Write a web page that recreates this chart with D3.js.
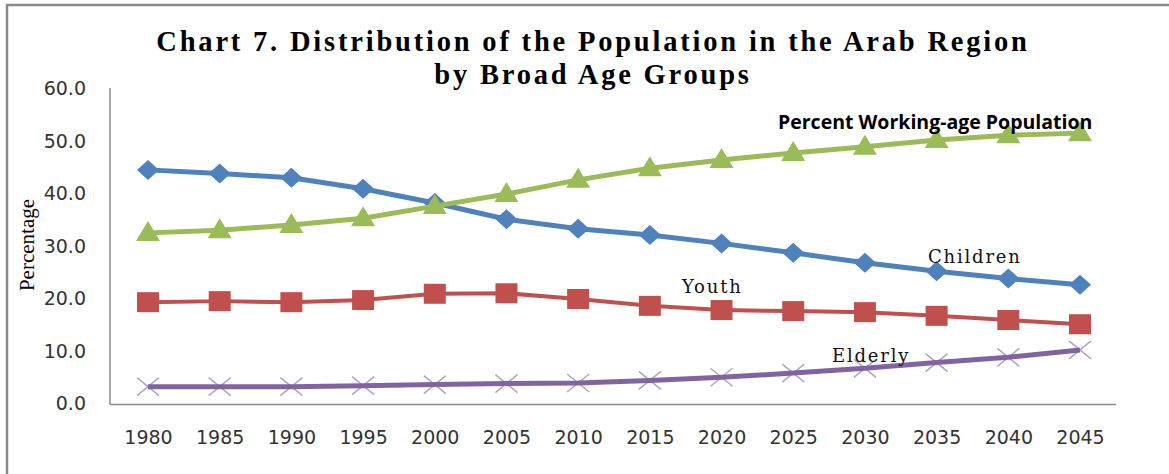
<!DOCTYPE html>
<html><head><meta charset="utf-8">
<script src="https://cdn.jsdelivr.net/npm/d3@7"></script>
<style>body{margin:0;background:#fff}svg{display:block}</style>
</head><body>
<script>
const years = ["1980","1985","1990","1995","2000","2005","2010","2015","2020","2025","2030","2035","2040","2045"];
const children = [44.5,43.8,43.0,40.9,38.2,35.1,33.3,32.1,30.5,28.7,26.8,25.2,23.8,22.6];
const youth = [19.3,19.5,19.3,19.7,20.9,21.0,19.9,18.6,17.8,17.6,17.4,16.7,15.9,15.1];
const working = [32.5,33.0,34.0,35.3,37.6,39.9,42.6,44.8,46.4,47.7,48.9,50.2,51.1,51.5];
const elderly = [3.2,3.2,3.2,3.4,3.6,3.8,3.9,4.4,5.0,5.8,6.7,7.8,8.8,10.2];
const yTicks = [0,10,20,30,40,50,60];
const titleLines = ["Chart 7. Distribution of the Population in the Arab Region","by Broad Age Groups"];

const W=1169,H=474;
const svg=d3.select("body").append("svg").attr("width",W).attr("height",H);
svg.append("rect").attr("width",W).attr("height",H).attr("fill","#fff");
// frame (cropped at right/bottom)
svg.append("path").attr("d",`M7,${H+5} L7,5 L${W+5},5`).attr("fill","none").attr("stroke","#8a8a8a").attr("stroke-width",2.5);

const x=d3.scalePoint().domain(years).range([148,1080]);
const y=d3.scaleLinear().domain([0,60]).range([403.5,88.5]);

// title
svg.append("g").selectAll("text").data(titleLines).join("text")
  .attr("x",593).attr("y",(d,i)=>51+i*32.5).attr("text-anchor","middle")
  .attr("font-family","'Liberation Serif',serif").attr("font-weight","bold").attr("font-size",28.5)
  .attr("letter-spacing",2.8).attr("fill","#000").text(d=>d);

// axes
const yAxis=svg.append("g").attr("transform","translate(110,0)")
  .call(d3.axisLeft(y).tickValues(yTicks).tickFormat(d3.format(".1f")).tickSize(0).tickPadding(24));
yAxis.select(".domain").attr("stroke","#8a8a8a").attr("stroke-width",1.5).attr("d","M0,88V404.5");
yAxis.selectAll("text").attr("font-family","'DejaVu Sans',sans-serif").attr("font-size",19).attr("fill","#333");

const xAxis=svg.append("g").attr("transform","translate(0,404.5)")
  .call(d3.axisBottom(x).tickSize(0).tickPadding(26));
xAxis.select(".domain").attr("stroke","#8a8a8a").attr("stroke-width",1.5).attr("d","M110,0H1116");
xAxis.selectAll("text").attr("font-family","'DejaVu Sans',sans-serif").attr("font-size",19).attr("fill","#333");

svg.append("text").attr("transform","translate(34,245) rotate(-90)").attr("text-anchor","middle")
  .attr("font-family","'Liberation Serif',serif").attr("font-size",21).attr("fill","#000").text("Percentage");

const line=d3.line().x((d,i)=>x(years[i])).y(d=>y(d));

function series(vals,color,lw){
  svg.append("path").datum(vals).attr("d",line).attr("fill","none").attr("stroke",color).attr("stroke-width",lw).attr("stroke-linejoin","round");
}
// Children
series(children,"#4F81BD",5);
svg.append("g").selectAll("path").data(children).join("path")
  .attr("transform",(d,i)=>`translate(${x(years[i])},${y(d)})`)
  .attr("d","M0,-10L11,0L0,10L-11,0Z").attr("fill","#4F81BD");
// Youth
series(youth,"#C0504D",4);
svg.append("g").selectAll("rect").data(youth).join("rect")
  .attr("x",(d,i)=>x(years[i])-11).attr("y",d=>y(d)-10).attr("width",22).attr("height",20).attr("fill","#C0504D");
// Working-age
series(working,"#9BBB59",5);
svg.append("g").selectAll("path").data(working).join("path")
  .attr("transform",(d,i)=>`translate(${x(years[i])},${y(d)})`)
  .attr("d","M0,-12L12,8L-12,8Z").attr("fill","#9BBB59");
// Elderly
svg.append("g").selectAll("path").data(elderly).join("path")
  .attr("transform",(d,i)=>`translate(${x(years[i])},${y(d)})`)
  .attr("d","M-11,-9L11,9M-11,9L11,-9").attr("stroke","#B3A2C7").attr("stroke-width",1.5).attr("fill","none");
series(elderly,"#8064A2",5);

// series labels
svg.append("text").attr("x",778).attr("y",128.5).attr("font-family","'Open Sans',sans-serif").attr("font-weight","bold")
  .attr("font-size",19.5).attr("letter-spacing",0).attr("fill","#000").text("Percent Working-age Population");
const lab=[["Children",928,263],["Youth",682,293],["Elderly",832,362]];
svg.append("g").selectAll("text").data(lab).join("text").attr("x",d=>d[1]).attr("y",d=>d[2])
  .attr("font-family","'DejaVu Serif',serif").attr("font-size",18).attr("letter-spacing",1.8).attr("fill","#111").text(d=>d[0]);
</script>
</body></html>
